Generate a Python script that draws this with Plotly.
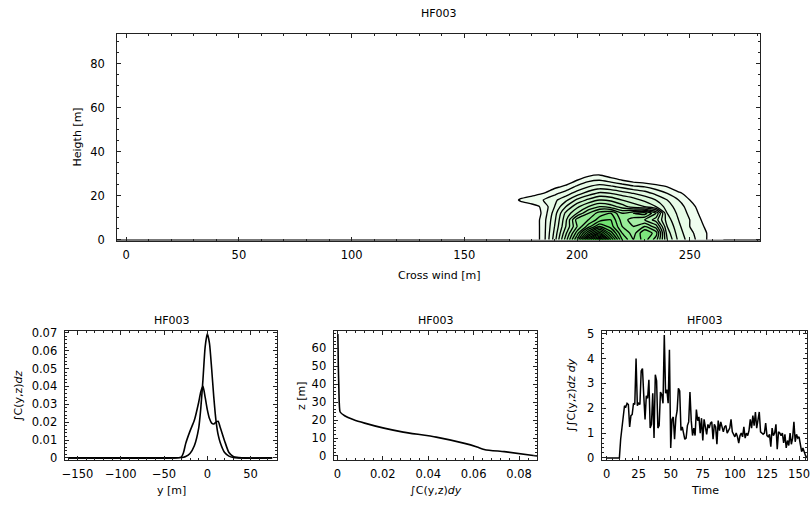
import plotly.graph_objects as go

W, H = 811, 506

# ---------------- data ----------------
# Top panel: concentration field (cross wind x, height z)
cross_x = [170, 175, 180, 185, 190, 195, 200, 205, 210, 215, 220, 225, 230, 235, 240, 245, 250, 255, 260, 265]
height_z = [0, 3, 6, 9, 12, 15, 18, 21, 24, 27, 30, 33]
conc = [
    [0, 0, 0, 6, 18, 34, 52, 80, 100, 72, 52, 44, 50, 42, 24, 15, 10, 6, 2, 0],
    [0, 0, 0, 6, 17, 31, 46, 64, 78, 62, 48, 42, 52, 46, 22, 14, 9, 6, 2, 0],
    [0, 0, 0, 6, 16, 28, 40, 50, 60, 54, 44, 40, 44, 38, 20, 13, 8, 5, 1, 0],
    [0, 0, 0, 6, 15, 27, 42, 44, 50, 52, 42, 38, 36, 30, 18, 12, 8, 4, 0, 0],
    [0, 0, 0, 5, 14, 25, 32, 40, 46, 48, 40, 44, 46, 36, 16, 11, 7, 3, 0, 0],
    [0, 0, 2, 5, 12, 20, 27, 32, 36, 34, 30, 26, 24, 20, 14, 10, 6, 2, 0, 0],
    [0, 5, 7, 8, 11, 15, 21, 25, 28, 27, 24, 22, 19, 16, 12, 8, 4, 0, 0, 0],
    [0, 0, 2, 4, 7, 10, 14, 18, 21, 20, 18, 16, 14, 11, 8, 5, 2, 0, 0, 0],
    [0, 0, 0, 1, 3, 5, 9, 12, 14, 13, 11, 9, 8, 6, 4, 1, 0, 0, 0, 0],
    [0, 0, 0, 0, 0, 1, 4, 7, 8, 6, 4, 2, 1, 0, 0, 0, 0, 0, 0, 0],
    [0, 0, 0, 0, 0, 0, 0, 2, 3, 1, 0, 0, 0, 0, 0, 0, 0, 0, 0, 0],
    [0, 0, 0, 0, 0, 0, 0, 0, 0, 0, 0, 0, 0, 0, 0, 0, 0, 0, 0, 0],
]

# Bottom-left: crosswind profiles
prof_y = [-160, -40, -30, -27.5, -25, -20, -15, -10, -7.5, -5, -2.5, 0, 2.5, 5, 7.5, 10, 12.5, 15, 20, 25, 30, 40, 75]
prof_sharp = [0, 0, 0.0002, 0.0004, 0.0008, 0.0025, 0.0068, 0.0165, 0.028, 0.044, 0.062, 0.0695, 0.064, 0.050,
              0.034, 0.021, 0.013, 0.0085, 0.0030, 0.0010, 0.0003, 0, 0]
prof_broad = [0, 0, 0.0005, 0.003, 0.008, 0.015, 0.021, 0.031, 0.037, 0.040, 0.034, 0.027, 0.022, 0.0195,
              0.019, 0.020, 0.0205, 0.017, 0.0095, 0.003, 0.0008, 0, 0]

# Bottom-middle: vertical profile
vert_z = [0, 2.4, 3.5, 5, 7, 10.5, 13.3, 15.5, 18.3, 20.2, 22.4, 24.5, 30, 40, 50, 60, 68]
vert_c = [0.0879, 0.0735, 0.0650, 0.0615, 0.056, 0.0435, 0.029, 0.0205, 0.012, 0.0072, 0.0032, 0.0012,
          0.0008, 0.0006, 0.0004, 0.0003, 0.0002]

# Bottom-right: time series of total
ts_vals = [0, 0, 0, 0, 0, 0, 0, 0, 0, 0, 0,
           0.75, 1.2, 1.6, 2.1, 2.05, 2.2, 2.15, 1.25, 1.7, 1.75,
           2.2, 2.15, 4.0, 2.1, 2.2, 2.15, 3.5, 3.6, 2.5, 1.55,
           2.5, 2.4, 3.15, 1.2, 1.35, 2.6, 0.8, 3.35, 3.1, 1.2,
           1.3, 2.65, 2.55, 2.2, 4.95, 2.6, 2.75, 2.2, 4.35, 0.4,
           1.55, 1.65, 0.75, 1.6, 1.9, 2.8, 2.7, 1.1, 1.25, 1.05,
           0.75, 0.8, 1.3, 1.45, 2.65, 1.5, 0.9, 1.2, 0.9, 1.95,
           1.5, 1.65, 1.0, 1.6, 0.7, 1.55, 1.25, 0.95, 1.35, 1.2,
           1.4, 1.45, 0.75, 1.35, 1.25, 0.55, 1.5, 1.1, 1.45, 1.2,
           1.05, 1.25, 1.3, 1.0, 1.1, 1.2, 1.55, 1.05, 0.95, 0.85,
           1.0, 0.85, 0.6, 0.9, 1.0, 0.85, 1.25, 0.8, 1.0, 0.9,
           1.1, 1.55, 1.2, 1.7, 1.3, 1.85, 1.2, 1.5, 1.85, 1.05,
           1.0, 0.95, 1.0, 1.4, 0.9, 0.85, 0.95, 0.45, 1.2, 0.9,
           1.0, 1.35, 0.35, 1.05, 1.0, 0.9, 1.0, 0.6, 0.95, 0.4,
           0.7, 0.5, 1.0, 0.55, 0.8, 1.45, 0.65, 0.95, 0.8, 0.85,
           0.55, 0.25, 0.4, 0.2, 0.1, 0.0]
ts_time = list(range(len(ts_vals)))

title_txt = "HF003"

# ---------------- figure ----------------
FONT = "DejaVu Sans, Verdana, sans-serif"
fig = go.Figure()

green_scale = [
    [0.0, "#ffffff"],
    [0.04, "#effdef"],
    [0.2, "#d4f8d4"],
    [0.35, "#a9efa9"],
    [0.5, "#76e476"],
    [0.7, "#4edb4e"],
    [1.0, "#2bcc2b"],
]

fig.add_trace(go.Contour(
    x=cross_x, y=height_z, z=conc,
    contours=dict(start=4, end=100, size=4, coloring="fill"),
    colorscale=green_scale, showscale=False,
    line=dict(color="black", width=1.35, smoothing=0.5),
    xaxis="x", yaxis="y", hoverinfo="skip",
))

for vals in (prof_broad, prof_sharp):
    fig.add_trace(go.Scatter(x=prof_y, y=vals, mode="lines",
                             line=dict(color="black", width=1.6, shape="spline", smoothing=0.6),
                             xaxis="x2", yaxis="y2", showlegend=False))

fig.add_trace(go.Scatter(x=vert_c, y=vert_z, mode="lines",
                         line=dict(color="black", width=1.6, shape="spline", smoothing=0.5),
                         xaxis="x3", yaxis="y3", showlegend=False))

fig.add_trace(go.Scatter(x=ts_time, y=ts_vals, mode="lines", line=dict(color="black", width=1.5),
                         xaxis="x4", yaxis="y4", showlegend=False))


def px_dom(a, b):
    return [a / W, b / W]


def py_dom(top, bottom):
    return [1 - bottom / H, 1 - top / H]


def ax(domain, rng, dtick, minor_dtick, anchor, standoff=6):
    return dict(
        domain=domain, range=rng, dtick=dtick, tick0=0, anchor=anchor,
        showgrid=False, zeroline=False, showline=True, linecolor="#222", linewidth=1,
        mirror="allticks", ticks="inside", ticklen=4, tickwidth=1, tickcolor="#222",
        minor=dict(ticks="inside", ticklen=2, dtick=minor_dtick, tickcolor="#222", showgrid=False),
        tickfont=dict(family=FONT, size=11.5, color="black"),
        ticklabelstandoff=standoff, ticklabeloverflow="allow",
    )


layout = dict(
    width=W, height=H, margin=dict(l=0, r=0, t=0, b=0),
    paper_bgcolor="white", plot_bgcolor="white", showlegend=False,
    font=dict(family=FONT, size=11, color="black"),
)
layout["xaxis"] = ax(px_dom(115, 763), [-4, 281.3], 50, 10, "y", standoff=3)
layout["yaxis"] = ax(py_dom(30, 241), [-0.5, 93.3], 20, 5, "x", standoff=9)
layout["yaxis"]["zeroline"] = True
layout["yaxis"]["zerolinecolor"] = "#777"
layout["yaxis"]["zerolinewidth"] = 1.5

layout["xaxis2"] = ax(px_dom(62, 276), [-165, 80.5], 50, 10, "y2", standoff=3)
layout["yaxis2"] = ax(py_dom(333, 465), [-0.0011, 0.0711], 0.01, 0.002, "x2", standoff=4)

layout["xaxis3"] = ax(px_dom(333, 538), [-0.0017, 0.0879], 0.02, 0.004, "y3", standoff=3)
layout["yaxis3"] = ax(py_dom(333, 465), [-2.2, 69.8], 10, 2, "x3", standoff=4)

layout["xaxis4"] = ax(px_dom(603, 810), [-3.9, 156.2], 25, 5, "y4", standoff=3)
layout["yaxis4"] = ax(py_dom(333, 465), [-0.08, 5.12], 1, 0.2, "x4", standoff=4)

fig.update_layout(**layout)


def ann(text, x, y, angle=0, size=11):
    fig.add_annotation(text=text, x=x / W, y=1 - y / H, xref="paper", yref="paper",
                       showarrow=False, textangle=angle, xanchor="center", yanchor="middle",
                       font=dict(family=FONT, size=size, color="black"))


ann(title_txt, 439, 9)
ann("Cross wind [m]", 439, 276)
ann("Heigth [m]", 75, 135, -90)

ann(title_txt, 170, 323)
ann("y [m]", 170, 496)
ann("∫C(y,z)<i>dz</i>", 15, 399, -90)

ann(title_txt, 436, 323)
ann("∫C(y,z)<i>dy</i>", 436, 496)
ann("z [m]", 301, 399, -90)

ann(title_txt, 707, 323)
ann("Time", 707, 496)
ann("∫∫C(y,z)<i>dz dy</i>", 573, 399, -90)

fig.write_html("out.html")
